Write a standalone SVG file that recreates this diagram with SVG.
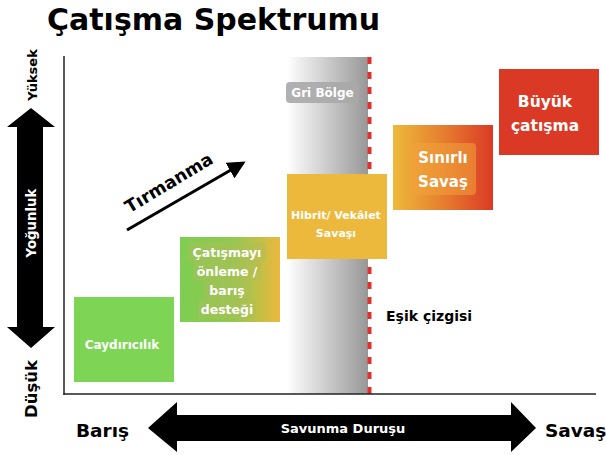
<svg xmlns="http://www.w3.org/2000/svg" width="606" height="455" viewBox="0 0 606 455">
<defs>
<style>
text{font-family:"DejaVu Sans","Liberation Sans",Arial,sans-serif;font-weight:bold}
.w{fill:#ffffff}
.k{fill:#000000}
.c{text-anchor:middle}
.tb{fill:#b0bd5c;opacity:0.45}
</style>
<linearGradient id="gGray" x1="0" y1="0" x2="1" y2="0">
<stop offset="0" stop-color="#ffffff"/>
<stop offset="1" stop-color="#979797"/>
</linearGradient>
<linearGradient id="gGreenYel" x1="0" y1="0" x2="1" y2="0">
<stop offset="0" stop-color="#7dce52"/>
<stop offset="0.55" stop-color="#93c84f"/>
<stop offset="1" stop-color="#ecb83d"/>
</linearGradient>
<linearGradient id="gOrange" x1="0" y1="0" x2="1" y2="0">
<stop offset="0" stop-color="#eeba3b"/>
<stop offset="0.55" stop-color="#e5782e"/>
<stop offset="1" stop-color="#db3a24"/>
</linearGradient>
<marker id="ah" markerWidth="6" markerHeight="6" refX="5" refY="3" orient="auto" markerUnits="strokeWidth">
<path d="M0,0 L6,3 L0,6 Z" fill="#000"/>
</marker>
</defs>
<rect width="606" height="455" fill="#ffffff"/>

<text x="47" y="30" font-size="30" class="k">Çatışma Spektrumu</text>

<g id="gray-zone">
<rect x="287" y="57" width="81" height="337" fill="url(#gGray)"/>
<line x1="369.5" y1="57" x2="369.5" y2="394" stroke="#e3302a" stroke-width="4" stroke-dasharray="7 8"/>
<rect x="286" y="82" width="73" height="21" rx="4" fill="#a9a9a9" opacity="0.9"/>
<text x="322.5" y="97" font-size="12" class="w c">Gri Bölge</text>
</g>

<g id="axes">
<line x1="64" y1="56" x2="64" y2="395" stroke="#222" stroke-width="1.5"/>
<line x1="63.5" y1="394" x2="596" y2="394" stroke="#222" stroke-width="1.5"/>
</g>

<g id="intensity-axis">
<polygon points="31,108 55,127 43,127 43,327 55,327 31,348 7,327 17,327 17,127 7,127" fill="#000"/>
<text transform="translate(36,223) rotate(-90)" font-size="13.3" class="w c">Yoğunluk</text>
<text transform="translate(37,75) rotate(-90)" font-size="13" class="k c">Yüksek</text>
<text transform="translate(37,389) rotate(-90)" font-size="16.5" class="k c">Düşük</text>
</g>

<g id="defense-axis">
<polygon points="148,428 177,402 177,415 511,415 511,402 536,428 511,452 511,441 177,441 177,452" fill="#000"/>
<text x="343" y="433" font-size="13" class="w c">Savunma Duruşu</text>
<text x="76" y="437" font-size="18.5" class="k">Barış</text>
<text x="545" y="437" font-size="18.5" class="k">Savaş</text>
</g>

<g id="threshold-label">
<text x="386" y="321" font-size="14" class="k">Eşik çizgisi</text>
</g>

<g id="node-caydiricilik">
<rect x="74" y="297" width="100" height="85" fill="#7ed455"/>
<text x="122" y="349" font-size="12" class="w c">Caydırıcılık</text>
</g>

<g id="node-onleme">
<rect x="180" y="237" width="100" height="85" fill="url(#gGreenYel)"/>
<rect class="tb" x="188" y="242" width="78" height="20" rx="3"/>
<rect class="tb" x="193" y="262" width="68" height="19" rx="3"/>
<rect class="tb" x="204" y="281" width="46" height="19" rx="3"/>
<rect class="tb" x="198" y="300" width="58" height="19" rx="3"/>
<text x="227" y="257" font-size="12.5" class="w c">Çatışmayı</text>
<text x="227" y="276" font-size="12.5" class="w c">önleme /</text>
<text x="227" y="295" font-size="12.5" class="w c">barış</text>
<text x="227" y="314" font-size="12.5" class="w c">desteği</text>
</g>

<g id="node-hibrit">
<rect x="287" y="174" width="100" height="85" fill="#edb93c"/>
<text x="336" y="219" font-size="11" class="w c">Hibrit/ Vekâlet</text>
<text x="336" y="237" font-size="11" class="w c">Savaşı</text>
</g>

<g id="node-sinirli">
<rect x="393" y="125" width="100" height="85" fill="url(#gOrange)"/>
<rect x="412" y="143" width="64" height="52" rx="4" fill="#f2a23a" opacity="0.55"/>
<text x="443" y="163" font-size="15" class="w c">Sınırlı</text>
<text x="443" y="187" font-size="15" class="w c">Savaş</text>
</g>

<g id="node-buyuk">
<rect x="499" y="69" width="100" height="86" fill="#da3a25"/>
<text x="545" y="107" font-size="15.5" class="w c">Büyük</text>
<text x="545" y="131" font-size="15.5" class="w c">çatışma</text>
</g>

<g id="connectors">
<line x1="127" y1="230" x2="243" y2="163" stroke="#000" stroke-width="3" marker-end="url(#ah)"/>
<text transform="translate(172,188) rotate(-31)" font-size="17.5" class="k c">Tırmanma</text>
</g>
</svg>
